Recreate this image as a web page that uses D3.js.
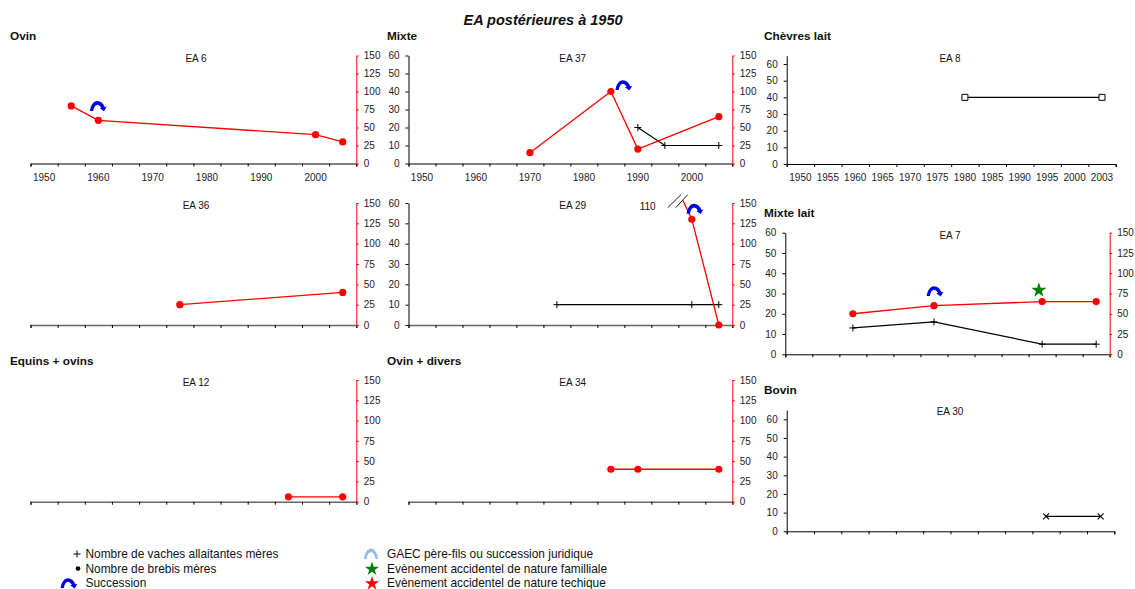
<!DOCTYPE html>
<html><head><meta charset="utf-8">
<script src="https://cdn.jsdelivr.net/npm/d3@7"></script>
<style>
html,body{margin:0;padding:0;background:#fff}
svg{display:block}
text{font-family:"Liberation Sans",Arial,sans-serif;fill:#111}
.tick text{font-family:"Liberation Sans",Arial,sans-serif;fill:#222}
</style></head><body>
<svg id="c" width="1135" height="589"></svg>
<script>
// ---- data ----
const years = ["1950","1955","1960","1965","1970","1975","1980","1985","1990","1995","2000","2005"];
const yearsEA8 = ["1950","1955","1960","1965","1970","1975","1980","1985","1990","1995","2000","2003"];
const leftTicks = [0,10,20,30,40,50,60];
const rightTicks = [0,25,50,75,100,125,150];

const ea6Years = ["1955","1960","2000","2005"],  ea6Brebis = [80,60,40,30];
const ea37Years = ["1970","1985","1990","2005"], ea37Brebis = [15,100,20,65];
const ea37VacheYears = ["1990","1995","2005"],   ea37Vaches = [20,10,10];
const ea8Years = ["1980","2003"],                ea8Chevres = [40,40];
const ea36Years = ["1975","2005"],               ea36Brebis = [25,40];
const ea29Years = ["1995","2000","2005"],        ea29Brebis = [200,130,0];
const ea29VacheYears = ["1975","2000","2005"],   ea29Vaches = [10,10,10];
const ea7Years = ["1960","1975","1995","2005"],  ea7Brebis = [50,60,65,65], ea7Vaches = [13,16,5,5];
const ea12Years = ["1995","2005"],               ea12Brebis = [6,6];
const ea34Years = ["1985","1990","2005"],        ea34Brebis = [40,40,40];
const ea30Years = ["1995","2005"],               ea30Bovins = [8,8];

const legendLeft = ["Nombre de vaches allaitantes mères","Nombre de brebis mères","Succession"];
const legendRight = ["GAEC père-fils ou succession juridique","Evènement accidentel de nature familliale","Evènement accidentel de nature techique"];

// ---- layout ----
const panels = [
 {name:"EA 6", head:"Ovin", hx:10,hy:36, x0:30.5,x1:356.3,y0:163.5,y1:55.5, right:true, labels:"even", labelCx:196, labelY:58.5,
  red:[ea6Years,ea6Brebis], arcs:[[1960,80]]},
 {name:"EA 37", head:"Mixte", hx:387,hy:36, x0:408.5,x1:732.3,y0:163.5,y1:55.5, left:60, right:true, labels:"even", labelCx:572.7, labelY:58.5,
  red:[ea37Years,ea37Brebis], plus:[ea37VacheYears,ea37Vaches], arcs:[[1987.4,109]]},
 {name:"EA 8", head:"Chèvres lait", hx:764,hy:36, x0:786.7,x1:1115.7,y0:164,y1:55.7, left:65, cats:yearsEA8, labels:"all", labelCx:950, labelY:58.7,
  square:[ea8Years,ea8Chevres]},
 {name:"EA 36", x0:30.5,x1:356.3,y0:325,y1:203, right:true, labelCx:196, labelY:205.5, softAxis:true,
  red:[ea36Years,ea36Brebis]},
 {name:"EA 29", x0:408.5,x1:732.3,y0:325,y1:203, left:60, right:true, labelCx:572.7, labelY:206, softAxis:true,
  red:[ea29Years,ea29Brebis], hideFirst:true, clipTop:200, plus:[ea29VacheYears,ea29Vaches], arcs:[[2000.6,143]], broken:true},
 {name:"EA 7", head:"Mixte lait", hx:764,hy:213, x0:785.3,x1:1109.7,y0:354.3,y1:232.7, left:60, right:true, labelCx:950, labelY:235.7,
  red:[ea7Years,ea7Brebis], plus:[ea7Years,ea7Vaches], arcs:[[1975.2,78]], star:[1994.4,79]},
 {name:"EA 12", head:"Equins + ovins", hx:10,hy:361, x0:30.5,x1:356.3,y0:501.7,y1:380, right:true, labelCx:196, labelY:382.7, softAxis:true,
  red:[ea12Years,ea12Brebis]},
 {name:"EA 34", head:"Ovin + divers", hx:387,hy:361, x0:408.5,x1:732.3,y0:501.7,y1:380, right:true, labelCx:572.7, labelY:383, softAxis:true,
  red:[ea34Years,ea34Brebis]},
 {name:"EA 30", head:"Bovin", hx:764,hy:390, x0:786.7,x1:1114.3,y0:531.3,y1:410, left:65, labelCx:950, labelY:411.7,
  cross:[ea30Years,ea30Bovins]}
];

const RED="#ff0000", BLUE="#0000e0", FONT=10;
const svg = d3.select("#c");
const arcPath = "M-8.4,5 L-5.2,5 C-4,-2.4 0,-2.9 2.9,1.8 L1.3,2.2 L5.6,5.4 L8.3,0.9 L6.5,1.3 C2.9,-7.4 -6.7,-7.4 -8.4,5Z";
const gaecPath = "M-7,6 L-4.5,6 C-3.5,-3 3.5,-3 4.5,6 L7,6 C5.5,-8 -5.5,-8 -7,6Z";
const plusPath = "M-3.5,0H3.5M0,-3.5V3.5";
const crossPath = "M-3,-3L3,3M-3,3L3,-3";

svg.append("text").attr("x",543).attr("y",24.8).attr("text-anchor","middle")
   .style("font-size","14.5px").style("font-weight","bold").style("font-style","italic").text("EA postérieures à 1950");

function styleAxis(g,color,w){
  g.select(".domain").attr("stroke",color).attr("stroke-width",w||1);
  g.selectAll(".tick line").attr("stroke",color==="#666"?"#000":color);
  g.selectAll(".tick text").style("font-size",FONT+"px");
}

panels.forEach((p,pi)=>{
  const g = svg.append("g");
  const cats = p.cats || years;
  const band = d3.scaleBand().domain(cats).range([p.x0,p.x1]);
  const px = c => band(c)+band.bandwidth()/2;
  const edge = d3.scaleLinear().domain([0,cats.length]).range([p.x0,p.x1]);
  const yearX = d3.scaleLinear().domain([1947.5,2007.5]).range([p.x0,p.x1]);
  const yR = d3.scaleLinear().domain([0,150]).range([p.y0,p.y1]);
  const yL = d3.scaleLinear().domain([0,p.left||60]).range([p.y0,p.y1]);

  if(p.head) g.append("text").attr("x",p.hx).attr("y",p.hy+4).style("font-size","11.8px").style("font-weight","bold").text(p.head);
  g.append("text").attr("x",p.labelCx).attr("y",p.labelY+3.2).attr("text-anchor","middle").style("font-size",FONT+"px").text(p.name);

  // x axis: ticks on band edges, labels on band centres
  g.append("g").attr("transform",`translate(0,${p.y0})`)
    .call(d3.axisBottom(edge).tickValues(d3.range(cats.length+1)).tickSize(3).tickSizeOuter(3).tickFormat(""))
    .call(a=>styleAxis(a,p.softAxis?"#666":"#000",p.softAxis?1.5:1));
  if(p.labels){
    const fmt = p.labels==="even" ? (d=>(+d%10===0?d:"")) : (d=>d);
    g.append("g").attr("transform",`translate(0,${p.y0})`)
      .call(d3.axisBottom(band).tickSize(0).tickPadding(10).tickFormat(fmt))
      .call(a=>{a.select(".domain").remove();a.selectAll(".tick text").style("font-size",FONT+"px");});
  }
  if(p.left){
    g.append("g").attr("transform",`translate(${p.x0},0)`)
      .call(d3.axisLeft(yL).tickValues(leftTicks).tickSize(3).tickSizeOuter(0).tickPadding(6).tickFormat(d3.format("d")))
      .call(a=>styleAxis(a,"#000"));
  }
  if(p.right){
    g.append("g").attr("transform",`translate(${p.x1},0)`)
      .call(d3.axisRight(yR).tickValues(rightTicks).tickSize(2.5).tickSizeOuter(0).tickPadding(5).tickFormat(d3.format("d")))
      .call(a=>styleAxis(a,RED));
  }

  const line = (c,ys,y,color,w,target)=>{
    (target||g).append("path").attr("fill","none").attr("stroke",color).attr("stroke-width",w)
     .attr("d",d3.line().x((d,i)=>px(c[i])).y(d=>y(d))(ys));
  };
  if(p.plus){
    line(p.plus[0],p.plus[1],yL,"#000",1.2);
    g.selectAll(null).data(p.plus[1]).join("path").attr("fill","none").attr("stroke","#000").attr("stroke-width",1)
     .attr("transform",(d,i)=>`translate(${px(p.plus[0][i])},${yL(d)})`).attr("d",plusPath);
  }
  if(p.square){
    line(p.square[0],p.square[1],yL,"#000",1.2);
    g.selectAll(null).data(p.square[1]).join("path").attr("fill","#fff").attr("stroke","#000").attr("stroke-width",1)
     .attr("transform",(d,i)=>`translate(${px(p.square[0][i])},${yL(d)})`).attr("d","M-3,-3H3V3H-3Z");
  }
  if(p.cross){
    line(p.cross[0],p.cross[1],yL,"#000",1.2);
    g.selectAll(null).data(p.cross[1]).join("path").attr("fill","none").attr("stroke","#000").attr("stroke-width",1.1)
     .attr("transform",(d,i)=>`translate(${px(p.cross[0][i])},${yL(d)})`).attr("d",crossPath);
  }
  if(p.red){
    let target=g;
    if(p.clipTop!==undefined){
      const id="clip"+pi;
      svg.append("clipPath").attr("id",id).append("rect").attr("x",p.x0).attr("y",p.clipTop).attr("width",p.x1-p.x0).attr("height",p.y0-p.clipTop+5);
      target=g.append("g").attr("clip-path",`url(#${id})`);
    }
    line(p.red[0],p.red[1],yR,RED,1.3,target);
    const pts=p.red[1].map((v,i)=>({c:p.red[0][i],v})).filter((d,i)=>!(p.hideFirst&&i===0));
    g.selectAll(null).data(pts).join("circle").attr("cx",d=>px(d.c)).attr("cy",d=>yR(d.v)).attr("r",3.6).attr("fill",RED);
  }
  (p.arcs||[]).forEach(a=>{
    g.append("path").attr("fill",BLUE).attr("transform",`translate(${yearX(a[0])},${yR(a[1])})`).attr("d",arcPath);
  });
  if(p.star){
    g.append("path").attr("fill","#008000").attr("transform",`translate(${yearX(p.star[0])},${yR(p.star[1])})`)
     .attr("d",d3.symbol(d3.symbolStar,70)());
  }
  if(p.broken){
    g.append("text").attr("x",647.7).attr("y",210).attr("text-anchor","middle").style("font-size",FONT+"px").text("110");
    g.append("path").attr("fill","none").attr("stroke","#000").attr("stroke-width",0.9)
     .attr("d","M667.7,207.7L681,194.7M675.7,207.7L687.7,194.7");
  }
});

// ---- legend ----
const legY=[554,568.5,583];
legendLeft.forEach((t,i)=>svg.append("text").attr("x",85.5).attr("y",legY[i]+4.2).style("font-size","11.9px").text(t));
legendRight.forEach((t,i)=>svg.append("text").attr("x",387).attr("y",legY[i]+4.2).style("font-size","11.9px").text(t));
svg.append("path").attr("fill","none").attr("stroke","#000").attr("stroke-width",1).attr("transform",`translate(77,${legY[0]})`).attr("d",plusPath);
svg.append("circle").attr("cx",78).attr("cy",legY[1]).attr("r",2.3).attr("fill","#000");
svg.append("path").attr("fill",BLUE).attr("transform",`translate(69,${legY[2]})`).attr("d",arcPath);
svg.append("path").attr("fill","#8fbcec").attr("transform",`translate(371,${legY[0]-1})`).attr("d",gaecPath);
svg.append("path").attr("fill","#008000").attr("transform",`translate(372,${legY[1]+0.5})`).attr("d",d3.symbol(d3.symbolStar,62)());
svg.append("path").attr("fill",RED).attr("transform",`translate(372,${legY[2]+0.5})`).attr("d",d3.symbol(d3.symbolStar,62)());
</script>
</body></html>
